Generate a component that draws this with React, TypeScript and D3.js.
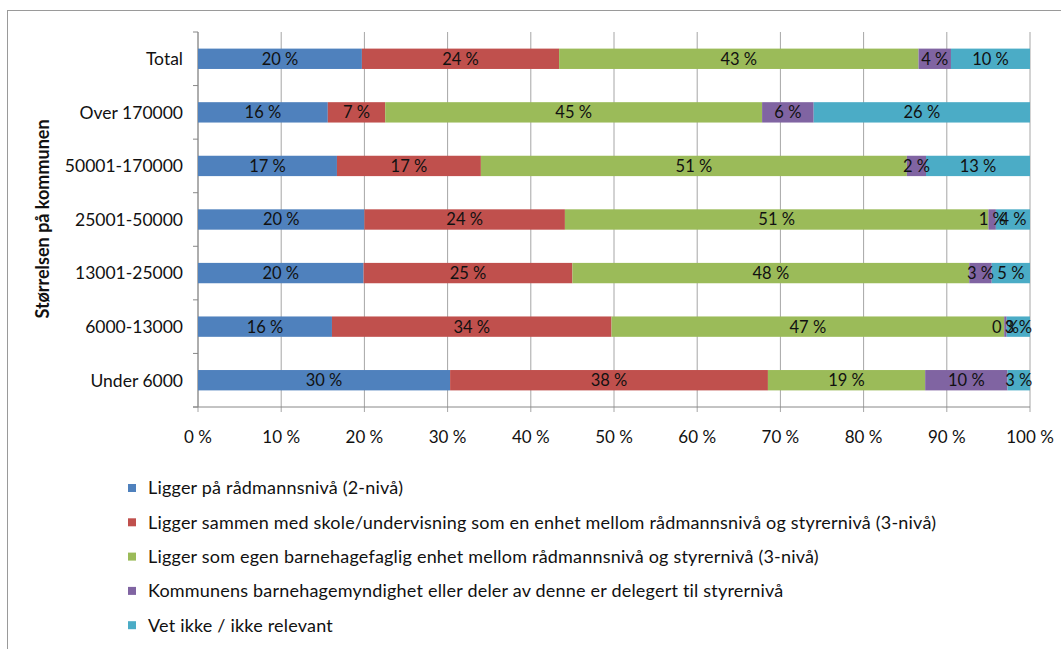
import * as d3 from "d3";

const categories = ["Total", "Over 170000", "50001-170000", "25001-50000", "13001-25000", "6000-13000", "Under 6000"];

const seriesNames = [
    "Ligger på rådmannsnivå (2-nivå)",
    "Ligger sammen med skole/undervisning som en enhet mellom rådmannsnivå og styrernivå (3-nivå)",
    "Ligger som egen barnehagefaglig enhet mellom rådmannsnivå og styrernivå (3-nivå)",
    "Kommunens barnehagemyndighet eller deler av denne er delegert til styrernivå",
    "Vet ikke / ikke relevant",
];

// values per series, in the order of categories
const radmann = [19.7, 15.6, 16.7, 20.0, 19.9, 16.1, 30.3];
const skole = [23.7, 6.9, 17.3, 24.1, 25.1, 33.6, 38.2];
const barnehage = [43.2, 45.3, 51.2, 50.9, 47.7, 47.2, 18.9];
const styrer = [3.9, 6.2, 2.3, 0.9, 2.7, 0.3, 9.9];
const vetIkke = [9.5, 26.0, 12.5, 4.1, 4.6, 2.8, 2.7];

const xTicks = [0, 10, 20, 30, 40, 50, 60, 70, 80, 90, 100];

const colors = ["#4F81BD", "#C0504D", "#9BBB59", "#8064A2", "#4BACC6"];

const W = 1061;
const H = 649;
const font = "Lato, 'Open Sans', sans-serif";

export default function App() {
    const keys = ["s0", "s1", "s2", "s3", "s4"];
    const all = [radmann, skole, barnehage, styrer, vetIkke];
    const rows = categories.map((c, i) => {
        const r: any = {cat: c};
        keys.forEach((k, j) => (r[k] = all[j][i]));
        return r;
    });
    const stacked = d3.stack<any>().keys(keys)(rows);

    const x = d3.scaleLinear().domain([0, 100]).range([198, 1030]);
    const y = d3.scaleBand().domain(categories).range([32, 407]).paddingInner(0.62).paddingOuter(0.31);
    const step = y.step();

    return (
        <svg width={W} height={H} style={{position: "absolute", left: 0, top: 0, background: "#fff"}} fontFamily={font}>
            <rect x={7.5} y={10.5} width={W + 10} height={H + 10} fill="#fff" stroke="#9a9a9a" />

            {/* gridlines */}
            {xTicks.map(t => (
                <line key={t} x1={x(t)} x2={x(t)} y1={32} y2={412} stroke="#a6a6a6" strokeWidth={1} />
            ))}
            {/* left axis */}
            <line x1={198} x2={198} y1={32} y2={407} stroke="#888" />
            {d3.range(categories.length + 1).map(i => (
                <line key={i} x1={193} x2={198} y1={32 + i * step} y2={32 + i * step} stroke="#888" />
            ))}
            {/* bottom axis */}
            <line x1={193} x2={1030} y1={407} y2={407} stroke="#888" />

            {stacked.map((s, j) => (
                <g key={s.key} fill={colors[j]}>
                    {s.map((d, i) => (
                        <rect key={i} x={x(d[0])} width={x(d[1]) - x(d[0])} y={y(categories[i])} height={y.bandwidth()} />
                    ))}
                </g>
            ))}

            {stacked.map((s, j) => (
                <g key={s.key} fontSize={16.5} fill="#111" textAnchor="middle">
                    {s.map((d, i) => (
                        <text key={i} x={(x(d[0]) + x(d[1])) / 2} y={(y(categories[i]) ?? 0) + y.bandwidth() / 2} dy="0.36em">
                            {Math.round(d[1] - d[0])} %
                        </text>
                    ))}
                </g>
            ))}

            {/* category labels */}
            {categories.map(c => (
                <text key={c} x={183} y={(y(c) ?? 0) + y.bandwidth() / 2} dy="0.36em" textAnchor="end" fontSize={17.5} fill="#111">
                    {c}
                </text>
            ))}

            {/* x tick labels */}
            {xTicks.map(t => (
                <text key={t} x={x(t)} y={437} dy="0.36em" textAnchor="middle" fontSize={17} fill="#111">
                    {t} %
                </text>
            ))}

            <text transform="translate(43,219) rotate(-90)" textAnchor="middle" dy="0.36em" fontSize={18} fontWeight="bold" fill="#111">
                Størrelsen på kommunen
            </text>

            {/* legend */}
            {seriesNames.map((n, j) => (
                <g key={n} transform={`translate(128,${488 + j * 34.3})`}>
                    <rect x={0} y={-4} width={8} height={8} fill={colors[j]} />
                    <text x={20} dy="0.36em" fontSize={18} letterSpacing={0.2} fill="#111">{n}</text>
                </g>
            ))}
        </svg>
    );
}
